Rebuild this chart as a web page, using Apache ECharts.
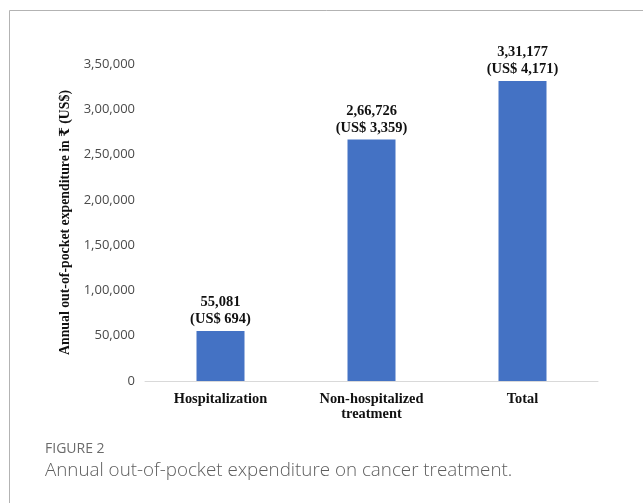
<!DOCTYPE html>
<html>
<head>
<meta charset="utf-8">
<script src="https://cdn.jsdelivr.net/npm/echarts@6/dist/echarts.min.js"></script>
<style>
  html, body { margin: 0; padding: 0; background: #fff; }
  #chart { width: 643px; height: 503px; }
</style>
</head>
<body>
<div id="chart"></div>
<script>
// Expenditure categories and annual out-of-pocket values
const categories = ['Hospitalization', 'Non-hospitalized\ntreatment', 'Total'];
const inrValues = [55081, 266726, 331177];
const usdValues = [694, 3359, 4171];
const yTicks = [0, 50000, 100000, 150000, 200000, 250000, 300000, 350000];

// Indian digit grouping: 3,50,000
function formatIndian(n) {
  const s = String(Math.round(n));
  if (s.length <= 3) return s;
  const last3 = s.slice(-3);
  let rest = s.slice(0, -3);
  const parts = [];
  while (rest.length > 2) {
    parts.unshift(rest.slice(-2));
    rest = rest.slice(0, -2);
  }
  if (rest) parts.unshift(rest);
  return parts.join(',') + ',' + last3;
}
function formatUS(n) {
  return String(n).replace(/\B(?=(\d{3})+(?!\d))/g, ',');
}

const chart = echarts.init(document.getElementById('chart'), null, { renderer: 'canvas' });
const serif = '"Liberation Serif", "DejaVu Serif", serif';
const sans = '"Open Sans", "Noto Sans", sans-serif';

chart.setOption({
  animation: false,
  backgroundColor: '#ffffff',
  grid: { left: 145, right: 45, top: 64, bottom: 122, containLabel: false },
  xAxis: {
    type: 'category',
    data: categories,
    axisLine: { lineStyle: { color: '#d9d9d9', width: 1 } },
    axisTick: { show: false },
    axisLabel: {
      color: '#111',
      fontFamily: serif,
      fontWeight: 'bold',
      fontSize: 14.4,
      lineHeight: 15,
      margin: 11
    }
  },
  yAxis: {
    type: 'value',
    min: yTicks[0],
    max: yTicks[yTicks.length - 1],
    interval: 50000,
    splitLine: { show: false },
    axisLine: { show: false },
    axisTick: { show: false },
    axisLabel: {
      color: '#4a4a4a',
      fontFamily: sans,
      fontSize: 13,
      margin: 10,
      formatter: v => formatIndian(v)
    },
    name: 'Annual out-of-pocket expenditure in \u20B9 (US$)',
    nameLocation: 'middle',
    nameGap: 63,
    nameTextStyle: {
      color: '#111',
      fontFamily: serif,
      fontWeight: 'bold',
      fontSize: 13.8
    }
  },
  series: [{
    type: 'bar',
    data: inrValues,
    barWidth: 48,
    itemStyle: { color: '#4472c4' },
    label: {
      show: true,
      position: 'top',
      distance: 3,
      color: '#111',
      fontFamily: serif,
      fontWeight: 'bold',
      fontSize: 14.5,
      lineHeight: 17,
      formatter: p => formatIndian(inrValues[p.dataIndex]) + '\n(US$ ' + formatUS(usdValues[p.dataIndex]) + ')'
    }
  }],
  graphic: [
    {
      type: 'polyline',
      shape: { points: [[9.5, 503], [9.5, 10.5], [643, 10.5]] },
      style: { stroke: '#b3b3b3', lineWidth: 1, fill: null },
      silent: true
    },
    {
      type: 'text',
      left: 45,
      top: 442,
      style: {
        text: 'FIGURE 2',
        fill: '#6b6b6b',
        font: '14px ' + sans
      }
    },
    {
      type: 'text',
      left: 45,
      top: 461,
      style: {
        text: 'Annual out-of-pocket expenditure on cancer treatment.',
        fill: '#5e5e5e',
        font: '300 18.8px ' + sans
      }
    }
  ]
});
</script>
</body>
</html>
